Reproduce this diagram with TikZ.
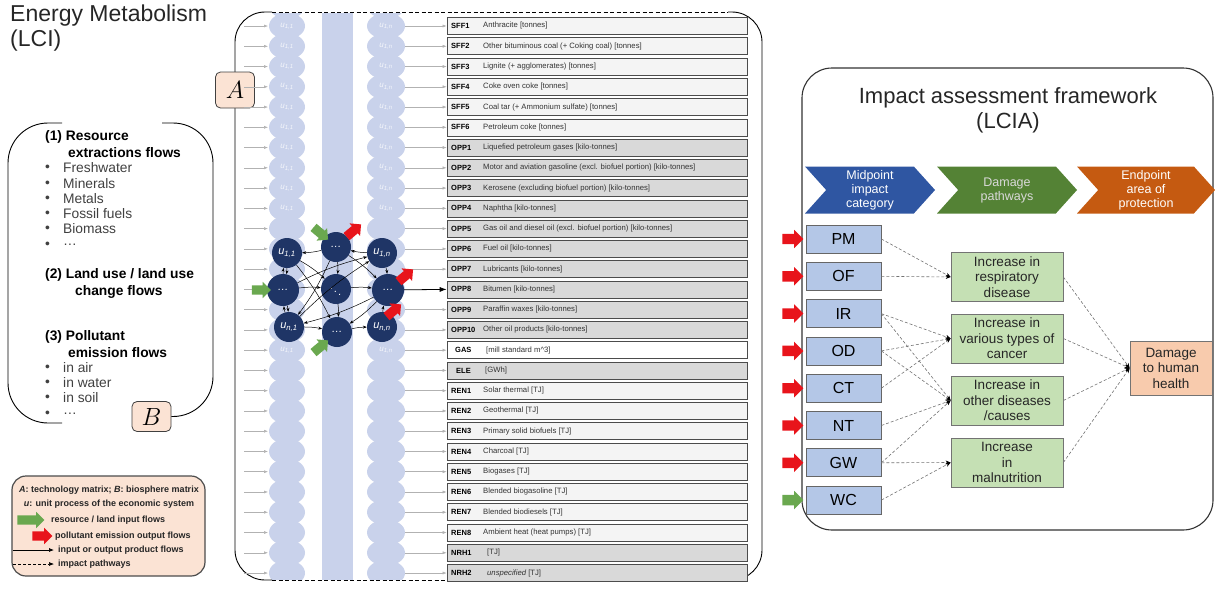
\documentclass[tikz,border=0pt]{standalone}
\usepackage{fontspec}
\setmainfont{Liberation Sans}
\usetikzlibrary{arrows.meta,shapes.arrows,shapes.symbols,positioning}

\definecolor{navy}{HTML}{1F3566}
\definecolor{blobblue}{HTML}{C9D2EB}
\definecolor{peach}{HTML}{FBE3D4}
\definecolor{rowlight}{HTML}{F4F4F4}
\definecolor{rowgray}{HTML}{D9D9D9}
\definecolor{chevblue}{HTML}{2F56A2}
\definecolor{chevgreen}{HTML}{548235}
\definecolor{chevorange}{HTML}{C55A11}
\definecolor{midblue}{HTML}{B4C7E7}
\definecolor{pathgreen}{HTML}{C5E0B4}
\definecolor{endorange}{HTML}{F8CBAD}
\definecolor{flowred}{HTML}{E8141B}
\definecolor{flowgreen}{HTML}{6AA84F}

\begin{document}
\begin{tikzpicture}[x=1pt,y=-1pt,
    rowbox/.style={draw=black!70,line width=0.6pt,minimum width=300pt,minimum height=17pt,inner sep=0pt},
    rowcode/.style={anchor=west,inner sep=0pt,font=\bfseries\fontsize{7.5}{8}\selectfont},
    rowdesc/.style={anchor=west,inner sep=0pt,font=\fontsize{7.7}{8}\selectfont,text=black!80},
    rowarrow/.style={draw=black!30,line width=0.5pt,-{Latex[length=4pt,width=3pt]}},
    ulabel/.style={inner sep=0pt,text=white,opacity=0.8,font=\itshape\fontsize{8}{8}\selectfont},
    unode/.style={circle,fill=navy,minimum size=30pt,inner sep=0pt,text=white,font=\itshape\fontsize{11}{11}\selectfont},
    netarrow/.style={line width=0.5pt,-{Stealth[length=4pt,width=3pt]}},
    greenarrow/.style={single arrow,fill=flowgreen,minimum height=19pt,inner xsep=0pt,inner ysep=4.5pt,single arrow head extend=3.5pt},
    redarrow/.style={greenarrow,fill=flowred},
    boxlabel/.style={draw=black!75,line width=0.8pt,fill=peach,rounded corners=5pt,minimum width=39pt,minimum height=30pt,inner sep=0pt,font=\fontsize{24}{24}\selectfont},
    listhdr/.style={anchor=west,inner sep=0pt,font=\bfseries\fontsize{13.8}{15}\selectfont},
    listtxt/.style={anchor=west,inner sep=0pt,font=\fontsize{13.8}{15}\selectfont,text=black!75},
    legtxt/.style={inner sep=0pt,font=\bfseries\fontsize{9}{9}\selectfont,text=black!85},
    chevron/.style={signal,signal to=east,signal from=west,signal pointer angle=96,minimum height=47pt,inner sep=0pt,text=white,align=center,font=\fontsize{12.5}{14}\selectfont},
    midbox/.style={draw=black!60,line width=0.7pt,fill=midblue,minimum width=75pt,minimum height=28pt,inner sep=0pt,font=\fontsize{16}{16}\selectfont},
    pathbox/.style={draw=black!55,line width=0.7pt,fill=pathgreen,minimum width=112pt,minimum height=49pt,inner sep=0pt,align=center,font=\fontsize{13.5}{15.5}\selectfont,text=black!85},
    endbox/.style={pathbox,fill=endorange,minimum width=82pt,minimum height=54pt},
    impact/.style={densely dashed,draw=black!55,line width=0.6pt,-{Stealth[black,length=5pt,width=4pt]}}]

\useasboundingbox (0,0) rectangle (1215,590);

% LCI side
\node[anchor=north west,align=left,inner sep=0pt,font=\fontsize{23}{25}\selectfont,text=black!85] (lciTitle) at (10,5) {Energy Metabolism\\(LCI)};

\node[boxlabel] (Bbox) at (151.5,416.5) {$B$};
\draw[line width=0.9pt,rounded corners=40pt] (62,123) -- (8,123) -- (8,423) -- (62,423);
\draw[line width=0.9pt,rounded corners=40pt] (162,123) -- (213,123) -- (213,416.5) -- (Bbox.east);

\node[listhdr] (hdr1a) at (45,137) {(1) Resource};
\node[listhdr] (hdr1b) at (68,153) {extractions flows};
\foreach \item/\yy [count=\k] in {Freshwater/168,Minerals/184,Metals/199,Fossil fuels/214,Biomass/229,\dots/245}{
  \node[listtxt] (bul1\k) at (45,\yy) {\textbullet};
  \node[listtxt] (res\k) at (63,\yy) {\item};
}
\node[listhdr] (hdr2a) at (45,275) {(2) Land use / land use};
\node[listhdr] (hdr2b) at (75,292) {change flows};
\node[listhdr] (hdr3a) at (45,337) {(3) Pollutant};
\node[listhdr] (hdr3b) at (68,353) {emission flows};
\foreach \item/\yy [count=\k] in {in air/368,in water/383,in soil/398,\dots/414}{
  \node[listtxt] (bul3\k) at (45,\yy) {\textbullet};
  \node[listtxt] (emi\k) at (63,\yy) {\item};
}

% legend
\node[draw=black!70,line width=1.2pt,fill=peach,rounded corners=14pt,minimum width=193pt,minimum height=100pt] (legend) at (108.5,526) {};
\node[legtxt] (leg1) at (109,490) {\textit{A}: technology matrix; \textit{B}: biosphere matrix};
\node[legtxt] (leg2) at (109,504) {\textit{u}: unit process of the economic system};
\node[greenarrow,minimum height=27pt] (legG) at (28.5,520) {};
\node[legtxt,anchor=west] (leg3) at (51,520) {resource / land input flows};
\node[redarrow,minimum height=20pt] (legR) at (40,536) {};
\node[legtxt,anchor=west] (leg4) at (55,536) {pollutant emission output flows};
\coordinate (legSa) at (13,550);
\coordinate (legSb) at (54,550);
\draw[line width=0.7pt,-{Latex[length=5pt,width=4pt]}] (legSa) -- (legSb);
\node[legtxt,anchor=west] (leg5) at (58,550) {input or output product flows};
\coordinate (legDa) at (13,564);
\coordinate (legDb) at (54,564);
\draw[densely dashed,line width=0.6pt,-{Latex[length=5pt,width=4pt]}] (legDa) -- (legDb);
\node[legtxt,anchor=west] (leg6) at (58,564) {impact pathways};

% technology matrix panel
\begin{scope}
  \clip (236,13) rectangle (761,579);
  \fill[blobblue] (322,12) rectangle (353,580);
  \foreach \i in {0,...,29}{
    \pgfmathsetmacro\yy{26+(\i-1)*20.26}
    \fill[blobblue] (287,\yy) ellipse (18pt and 13pt);
    \fill[blobblue] (386,\yy) ellipse (19pt and 13pt);
  }
\end{scope}
\foreach \i in {1,...,10,17,...,26}{
  \pgfmathsetmacro\yy{26+(\i-1)*20.26}
  \node[ulabel] (ua\i) at (287,\yy) {u\textsubscript{1,1}};
  \node[ulabel] (ub\i) at (386,\yy) {u\textsubscript{1,n}};
}

\draw[line width=0.9pt,rounded corners=30pt] (272,12) -- (235,12) -- (235,580) -- (272,580);
\draw[line width=0.9pt,rounded corners=30pt] (728,12) -- (762,12) -- (762,580) -- (728,580);
\draw[line width=0.9pt,dash pattern=on 4pt off 2.5pt] (272,12) -- (728,12);
\draw[line width=0.9pt,dash pattern=on 4pt off 2.5pt] (272,580) -- (728,580);
\node[boxlabel,minimum height=36pt] (Abox) at (235,90) {$A$};

\foreach \rcode/\rdesc/\rfill [count=\i] in {
  SFF1/Anthracite [tonnes]/rowlight,
  SFF2/Other bituminous coal (+ Coking coal) [tonnes]/rowlight,
  SFF3/Lignite (+ agglomerates) [tonnes]/rowlight,
  SFF4/Coke oven coke [tonnes]/rowlight,
  SFF5/Coal tar (+ Ammonium sulfate) [tonnes]/rowlight,
  SFF6/Petroleum coke [tonnes]/rowlight,
  OPP1/Liquefied petroleum gases [kilo-tonnes]/rowgray,
  OPP2/Motor and aviation gasoline (excl. biofuel portion) [kilo-tonnes]/rowgray,
  OPP3/Kerosene (excluding biofuel portion) [kilo-tonnes]/rowgray,
  OPP4/Naphtha [kilo-tonnes]/rowgray,
  OPP5/Gas oil and diesel oil (excl. biofuel portion) [kilo-tonnes]/rowgray,
  OPP6/Fuel oil [kilo-tonnes]/rowgray,
  OPP7/Lubricants [kilo-tonnes]/rowgray,
  OPP8/Bitumen [kilo-tonnes]/rowgray,
  OPP9/Paraffin waxes [kilo-tonnes]/rowgray,
  OPP10/Other oil products [kilo-tonnes]/rowgray,
  {\hspace{4pt}GAS}/{\hspace{3pt}[mill standard m\textasciicircum3]}/white,
  {\hspace{5pt}ELE}/{\hspace{2pt}[GWh]}/rowgray,
  REN1/Solar thermal [TJ]/rowlight,
  REN2/Geothermal [TJ]/rowlight,
  REN3/Primary solid biofuels [TJ]/rowlight,
  REN4/Charcoal [TJ]/rowlight,
  REN5/Biogases [TJ]/rowlight,
  REN6/Blended biogasoline [TJ]/rowlight,
  REN7/Blended biodiesels [TJ]/rowlight,
  REN8/Ambient heat (heat pumps) [TJ]/rowlight,
  NRH1/{\hspace{4pt}[TJ]}/rowgray,
  NRH2/{\hspace{4pt}\itshape unspecified\upshape\ [TJ]}/rowgray}{
  \pgfmathsetmacro\yy{26+(\i-1)*20.26}
  \node[rowbox,fill=\rfill] (row\i) at (597,\yy) {};
  \node[rowcode] (code\i) at (451,\yy) {\rcode};
  \node[rowdesc] (desc\i) at (483,\yy) {\rdesc};
  \coordinate (inL\i) at (244,\yy);
  \coordinate (inR\i) at (268,\yy);
  \draw[rowarrow] (inL\i) -- (inR\i);
  \ifnum\i=14\else
    \coordinate (src\i) at (405,\yy);
    \draw[rowarrow] (src\i) -- (row\i.west);
  \fi
}

% network of unit processes
\node[unode] (n11) at (287,253) {u\textsubscript{1,1}};
\node[unode] (nT) at (336,247) {\dots};
\node[unode] (n1n) at (382,253) {u\textsubscript{1,n}};
\node[unode,minimum size=32pt] (nL) at (283,290) {\dots};
\node[unode] (nC) at (336,289) {$\ddots$};
\node[unode,minimum size=32pt] (nR) at (388,290) {\dots};
\node[unode] (nn1) at (289,327) {u\textsubscript{n,1}};
\node[unode] (nB) at (337,332) {\dots};
\node[unode] (nnn) at (382,327) {u\textsubscript{n,n}};

\foreach \a/\b in {nL/n11,n11/nL,nT/n11,n11/nC,n11/nB,nT/nC,nC/nB,nL/nC,nC/nR,nn1/n1n,nL/n1n,
                   n1n/nT,nT/nR,nR/nn1,nB/nnn,nnn/nR,n1n/nR,nn1/nB,nL/nn1,nn1/nL,nR/nB,nT/nn1}
  \draw[netarrow] (\a) to[bend left=6] (\b);

\draw[line width=0.8pt,-{Latex[length=7pt,width=5pt]}] (nR) -- (row14.west);

\node[greenarrow] (gL) at (259,290) {};
\node[greenarrow,rotate=-40] (gT) at (319,232) {};
\node[greenarrow,rotate=40] (gB) at (319,348) {};
\node[redarrow,rotate=40] (rT) at (352,232) {};
\node[redarrow,rotate=40] (rR) at (404,277) {};
\node[redarrow,rotate=40] (rN) at (392,312) {};

% LCIA side
\draw[line width=1.1pt,draw=black!80,rounded corners=30pt] (802,68) rectangle (1213,530);
\node[align=center,inner sep=0pt,font=\fontsize{22}{25}\selectfont,text=black!85] (lciaTitle) at (1008,110) {Impact assessment framework\\(LCIA)};

\node[chevron,fill=chevblue,minimum width=130pt] (chMid) at (870,190) {Midpoint\\impact\\category};
\node[chevron,fill=chevgreen,minimum width=140pt,text=white!85!black] (chDam) at (1007,190) {Damage\\pathways};
\node[chevron,fill=chevorange,minimum width=138pt] (chEnd) at (1146,190) {Endpoint\\area of\\protection};

\foreach \lab [count=\k] in {PM,OF,IR,OD,CT,NT,GW,WC}{
  \pgfmathsetmacro\yy{239+(\k-1)*37.3}
  \node[midbox] (m\lab) at (843.5,\yy) {\lab};
}
\foreach \lab in {PM,OF,IR,OD,CT,NT,GW}
  \node[redarrow,minimum height=21pt,inner ysep=5pt,single arrow head extend=4pt,anchor=east] (in\lab) at ([xshift=-2pt]m\lab.west) {};
\node[greenarrow,minimum height=21pt,inner ysep=5pt,single arrow head extend=4pt,anchor=east] (inWC) at ([xshift=-2pt]mWC.west) {};

\node[pathbox] (pResp) at (1007,277) {Increase in\\respiratory\\disease};
\node[pathbox] (pCanc) at (1007,338.5) {Increase in\\various types of\\cancer};
\node[pathbox] (pOther) at (1007,400.5) {Increase in\\other diseases\\/causes};
\node[pathbox] (pMal) at (1007,462.5) {Increase\\in\\malnutrition};
\node[endbox] (dHH) at (1171,368) {Damage\\to human\\health};

\foreach \a/\b in {mPM/pResp,mOF/pResp,mIR/pCanc,mIR/pOther,mOD/pCanc,mOD/pOther,mCT/pCanc,
                   mNT/pOther,mGW/pOther,mGW/pMal,mWC/pMal,pResp/dHH,pCanc/dHH,pOther/dHH,pMal/dHH}
  \draw[impact] (\a.east) -- (\b.west);

\end{tikzpicture}
\end{document}
